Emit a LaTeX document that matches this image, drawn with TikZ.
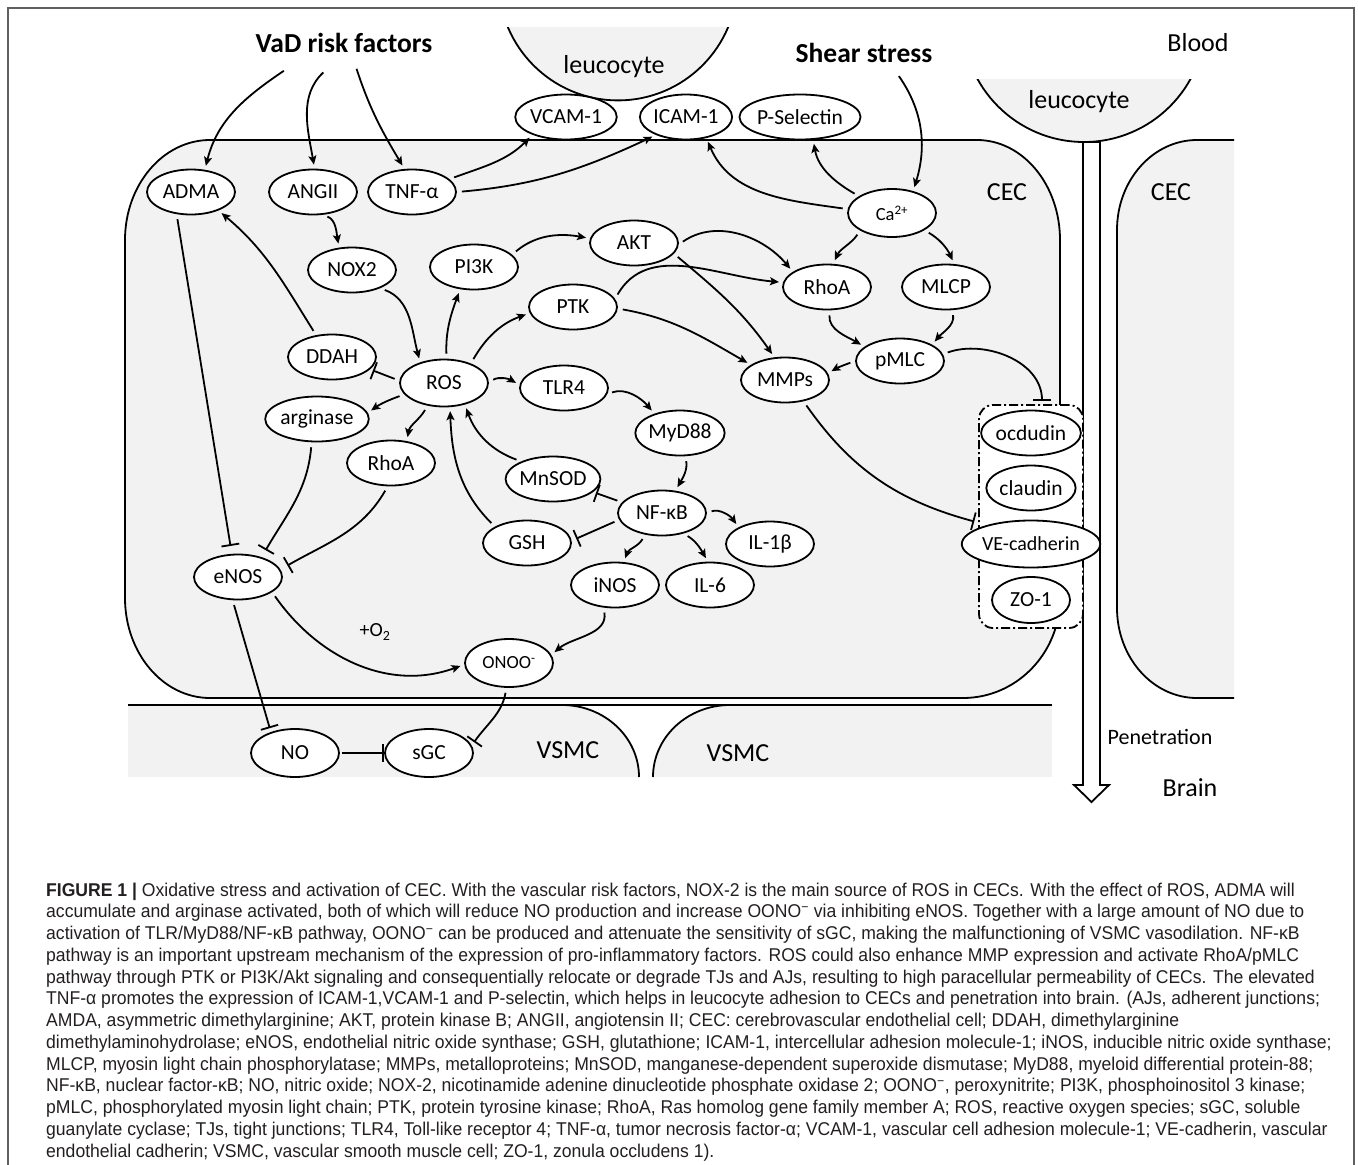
\documentclass[tikz,border=0pt]{standalone}
\usepackage{fontspec}
\setmainfont{Carlito}
\newfontfamily\capfont[FakeStretch=0.95]{Liberation Sans}
\usetikzlibrary{shapes.geometric,arrows.meta}
\definecolor{cellgray}{HTML}{F2F2F2}
\definecolor{captxt}{HTML}{231F20}
\definecolor{framegray}{HTML}{606060}
\begin{document}
\begin{tikzpicture}[x=1pt,y=1pt,
  el/.style={ellipse, draw, line width=1.8pt, fill=white, minimum width=88pt, minimum height=45pt, inner sep=0pt, font=\fontsize{21.5}{24}\selectfont},
  ar/.style={-{Stealth[length=9pt,width=8pt,inset=2pt]}, line width=1.8pt, shorten >=4pt, shorten <=5pt},
  inh/.style={-{Bar[width=18pt]}, line width=1.8pt, shorten >=8pt, shorten <=5pt},
  lab/.style={font=\fontsize{26}{30}\selectfont, inner sep=0pt},
  boldlab/.style={font=\bfseries\fontsize{27.5}{32}\selectfont, inner sep=0pt},
  outl/.style={line width=1.8pt},
  capline/.style={anchor=base west, inner sep=0pt, font=\capfont\fontsize{18.5}{22}\selectfont, text=captxt},
]
\fill[white] (0,0) rectangle (1358,-1165);
\useasboundingbox (0,0) rectangle (1358,-1165);
% frame
\draw[framegray, line width=1.5pt] (8,-1175) -- (8,-8) -- (1354,-8) -- (1354,-1175);

% top leucocyte
\begin{scope}
\clip (400,-27) rectangle (800,-200);
\fill[cellgray] (618,19) circle[radius=119.4];
\draw[outl] (618,19) circle[radius=119.4];
\end{scope}
% right leucocyte
\begin{scope}
\clip (900,-79) rectangle (1300,-200);
\fill[cellgray] (1084,-20.5) circle[radius=121.5];
\draw[outl] (1084,-20.5) circle[radius=121.5];
\end{scope}

% main CEC
\filldraw[fill=cellgray, outl] (210,-140) -- (977,-140)
  arc[start angle=90,end angle=0,x radius=83,y radius=100] -- (1060,-598)
  arc[start angle=0,end angle=-90,x radius=97,y radius=100] -- (210,-698)
  arc[start angle=270,end angle=180,x radius=85,y radius=100] -- (125,-240)
  arc[start angle=180,end angle=90,x radius=85,y radius=100] -- cycle;
% right CEC
\fill[cellgray] (1234,-140) -- (1197,-140)
  arc[start angle=90,end angle=180,x radius=80,y radius=90] -- (1117,-608)
  arc[start angle=180,end angle=270,x radius=80,y radius=90] -- (1234,-698) -- cycle;
\draw[outl] (1234,-140) -- (1197,-140)
  arc[start angle=90,end angle=180,x radius=80,y radius=90] -- (1117,-608)
  arc[start angle=180,end angle=270,x radius=80,y radius=90] -- (1234,-698);

% VSMC band
\fill[cellgray] (128,-705) rectangle (1052,-777);
\fill[white] (562,-705) arc[start angle=90,end angle=0,x radius=77,y radius=72]
  -- (653,-777) arc[start angle=180,end angle=90,x radius=77,y radius=72] -- cycle;
\draw[outl] (562,-705) arc[start angle=90,end angle=0,x radius=77,y radius=72];
\draw[outl] (653,-777) arc[start angle=180,end angle=90,x radius=77,y radius=72];
\draw[line width=2.4pt] (128,-705) -- (1052,-705);

% channel arrow
\draw[outl, fill=white] (1083,-142) -- (1083,-785) -- (1074,-785) -- (1091.5,-802)
  -- (1109,-785) -- (1100,-785) -- (1100,-142) -- cycle;

% TJ box
\node[draw, fill=white, line width=1.8pt, rounded corners=14pt,
  dash pattern=on 9pt off 3pt on 2pt off 3pt, minimum width=104pt,
  minimum height=223pt, inner sep=0pt] (tjbox) at (1031,-516.5) {};

% labels
\node[boldlab] (vad) at (344,-43) {VaD risk factors};
\node[boldlab] (shear) at (864,-53) {Shear stress};
\node[lab] (blood) at (1198,-43) {Blood};
\node[lab] (leu1) at (614,-67) {leucocyte};
\node[lab] (leu2) at (1079,-102) {leucocyte};
\node[lab] (cec1) at (1007,-192) {CEC};
\node[lab] (cec2) at (1171,-192) {CEC};
\node[lab] (vsmc1) at (568,-750) {VSMC};
\node[lab] (vsmc2) at (738,-753) {VSMC};
\node[font=\fontsize{22}{26}\selectfont, inner sep=0pt] (pen) at (1160,-737) {Penetration};
\node[lab] (brain) at (1190,-788) {Brain};
\node[font=\fontsize{20}{24}\selectfont, inner sep=0pt] (o2) at (375,-632) {+O\textsubscript{2}};

% nodes
\node[el, minimum width=90pt] (vcam) at (566,-117) {VCAM-1};
\node[el] (icam) at (686,-117) {ICAM-1};
\node[el, minimum width=106pt] (psel) at (800,-117) {P-Selectin};
\node[el] (adma) at (191,-192) {ADMA};
\node[el] (angii) at (313,-192) {ANGII};
\node[el] (tnf) at (412,-192) {TNF-α};
\node[el, minimum height=48pt, font=\fontsize{18.5}{22}\selectfont] (ca) at (892,-213) {Ca\textsuperscript{2+}};
\node[el] (nox2) at (352,-270) {NOX2};
\node[el] (pi3k) at (474,-267) {PI3K};
\node[el] (akt) at (634,-243) {AKT};
\node[el] (rhoa1) at (827,-287) {RhoA};
\node[el] (mlcp) at (946,-287) {MLCP};
\node[el] (ptk) at (573,-307) {PTK};
\node[el] (ddah) at (332,-357) {DDAH};
\node[el, minimum height=47pt] (ros) at (444,-383) {ROS};
\node[el] (tlr4) at (564,-388) {TLR4};
\node[el] (mmps) at (785,-380) {MMPs};
\node[el] (pmlc) at (900,-361) {pMLC};
\node[el] (arginase) at (317,-419) {arginase};
\node[el] (myd88) at (680,-433) {MyD88};
\node[el] (rhoa2) at (391,-463) {RhoA};
\node[el] (mnsod) at (553,-479) {MnSOD};
\node[el] (nfkb) at (662,-513) {NF-κB};
\node[el] (gsh) at (527,-543) {GSH};
\node[el] (il1b) at (770,-544) {IL-1β};
\node[el] (inos) at (615,-585) {iNOS};
\node[el] (il6) at (710,-585) {IL-6};
\node[el] (enos) at (238,-577) {eNOS};
\node[el, minimum height=48pt, font=\fontsize{18.5}{22}\selectfont] (onoo) at (509,-663) {ONOO\textsuperscript{-}};
\node[el, minimum height=48pt] (no) at (295,-753) {NO};
\node[el, minimum height=48pt] (sgc) at (429,-753) {sGC};
\node[el] (ocd) at (1031,-433) {ocdudin};
\node[el] (cld) at (1031,-488) {claudin};
\node[el, minimum width=103pt, minimum height=47pt, font=\fontsize{20}{24}\selectfont] (vec) at (1031,-544) {VE-cadherin};
\node[el, minimum width=78pt, minimum height=46pt] (zo1) at (1031,-600) {ZO-1};

% connectors
\draw[ar] ([shift={(-56,-25)}]vad.center) to[out=214,in=76] (adma.58);
\draw[ar] ([shift={(-17,-26)}]vad.center) to[out=223,in=100] (angii.86);
\draw[ar] ([shift={(11,-21)}]vad.center) to[out=-72,in=121] (tnf.108);
\draw[ar] (tnf.19) to[out=20,in=225] (vcam.208);
\draw[ar] (tnf.0) to[out=5,in=205] (icam.211);
\draw[ar] (ca.175) to[out=172,in=-67] (icam.-46);
\draw[ar] (ca.153) to[out=150,in=-80] (psel.-60);
\draw[ar] ([shift={(32,-19)}]shear.center) to[out=-55,in=73] (ca.46);
\draw[ar] (ca.209) to[out=235,in=65] (rhoa1.75);
\draw[ar] (ca.-28) to[out=-30,in=115] (mlcp.70);
\draw[ar] (pi3k.18) to[out=40,in=170] (akt.174);
\draw[ar] (akt.-2) to[out=35,in=130] (rhoa1.156);
\draw[ar] (ptk.11) to[out=60,in=175] (rhoa1.174);
\draw[ar] (akt.-15) to[out=-40,in=125] (mmps.115);
\draw[ar] (ptk.-2) to[out=-10,in=150] (mmps.156);
\draw[ar] (rhoa1.-83) to[out=-95,in=150] (pmlc.158);
\draw[ar] (mlcp.-75) to[out=-80,in=50] (pmlc.27);
\draw[ar] (pmlc.180) to[out=200,in=30] (mmps.9);
\draw[inh, shorten >=3pt] (pmlc.9) to[out=20,in=90] ([xshift=11pt]tjbox.north);
\draw[inh, shorten >=4pt] (mmps.-49) to[out=-55,in=165] ([yshift=-6pt]tjbox.west);
\draw[ar] (angii.-67) to[out=-20,in=100] (nox2.120);
\draw[ar] (nox2.-33) to[out=-20,in=105] (ros.139);
\draw[inh] (adma.-123) -- (enos.105);
\draw[ar] (ddah.126) to[out=122,in=-40] (adma.-34);
\draw[inh, shorten >=3pt] (ros.177) -- (ddah.-18);
\draw[ar] (ros.196) to[out=200,in=35] (arginase.7);
\draw[ar] (ros.234) to[out=240,in=80] (rhoa2.54);
\draw[ar] (ros.84) to[out=92,in=-110] (pi3k.238);
\draw[ar] (ros.36) to[out=60,in=200] (ptk.188);
\draw[ar] (ros.1) to[out=30,in=150] (tlr4.176);
\draw[ar] (mnsod.151) to[out=160,in=-70] (ros.-46);
\draw[ar] (gsh.153) to[out=135,in=-88] (ros.-76);
\draw[inh] (arginase.-103) to[out=-95,in=60] (enos.40);
\draw[inh] (rhoa2.-98) to[out=-120,in=30] (enos.10);
\draw[ar] (tlr4.-8) to[out=20,in=130] (myd88.143);
\draw[ar] (myd88.-77) to[out=-80,in=60] (nfkb.59);
\draw[inh, shorten >=3pt] (nfkb.165) -- (mnsod.-18);
\draw[inh, shorten >=5pt] (nfkb.189) -- (gsh.3);
\draw[ar] (nfkb.232) to[out=240,in=70] (inos.69);
\draw[ar] (nfkb.-44) to[out=-30,in=120] (il6.95);
\draw[ar] (nfkb.0) to[out=20,in=125] (il1b.152);
\draw[ar] (inos.243) to[out=-80,in=40] (onoo.11);
\draw[ar] (enos.-24) to[out=-55,in=200] (onoo.182);
\draw[inh, shorten >=4pt] (enos.-103) -- (no.139);
\draw[inh, shorten >=0pt, shorten <=2pt] (no.east) -- (sgc.west);
\draw[inh, shorten >=4pt] (onoo.-96) to[out=-100,in=55] (sgc.10);

% caption
\node[capline] (c1) at (46,-896.0) {{\bfseries FIGURE 1 |} Oxidative stress and activation of CEC. With the vascular risk factors, NOX-2 is the main source of ROS in CECs. With the effect of ROS, ADMA will};
\node[capline] (c2) at (46,-917.75) {accumulate and arginase activated, both of which will reduce NO production and increase OONO\textsuperscript{\char"2212} via inhibiting eNOS. Together with a large amount of NO due to};
\node[capline] (c3) at (46,-939.5) {activation of TLR/MyD88/NF-κB pathway, OONO\textsuperscript{\char"2212} can be produced and attenuate the sensitivity of sGC, making the malfunctioning of VSMC vasodilation. NF-κB};
\node[capline] (c4) at (46,-961.25) {pathway is an important upstream mechanism of the expression of pro-inflammatory factors. ROS could also enhance MMP expression and activate RhoA/pMLC};
\node[capline] (c5) at (46,-983.0) {pathway through PTK or PI3K/Akt signaling and consequentially relocate or degrade TJs and AJs, resulting to high paracellular permeability of CECs. The elevated};
\node[capline] (c6) at (46,-1004.75) {TNF-α promotes the expression of ICAM-1,VCAM-1 and P-selectin, which helps in leucocyte adhesion to CECs and penetration into brain. (AJs, adherent junctions;};
\node[capline] (c7) at (46,-1026.5) {AMDA, asymmetric dimethylarginine; AKT, protein kinase B; ANGII, angiotensin II; CEC: cerebrovascular endothelial cell; DDAH, dimethylarginine};
\node[capline] (c8) at (46,-1048.25) {dimethylaminohydrolase; eNOS, endothelial nitric oxide synthase; GSH, glutathione; ICAM-1, intercellular adhesion molecule-1; iNOS, inducible nitric oxide synthase;};
\node[capline] (c9) at (46,-1070.0) {MLCP, myosin light chain phosphorylatase; MMPs, metalloproteins; MnSOD, manganese-dependent superoxide dismutase; MyD88, myeloid differential protein-88;};
\node[capline] (c10) at (46,-1091.75) {NF-κB, nuclear factor-κB; NO, nitric oxide; NOX-2, nicotinamide adenine dinucleotide phosphate oxidase 2; OONO\textsuperscript{\char"2212}, peroxynitrite; PI3K, phosphoinositol 3 kinase;};
\node[capline] (c11) at (46,-1113.5) {pMLC, phosphorylated myosin light chain; PTK, protein tyrosine kinase; RhoA, Ras homolog gene family member A; ROS, reactive oxygen species; sGC, soluble};
\node[capline] (c12) at (46,-1135.25) {guanylate cyclase; TJs, tight junctions; TLR4, Toll-like receptor 4; TNF-α, tumor necrosis factor-α; VCAM-1, vascular cell adhesion molecule-1; VE-cadherin, vascular};
\node[capline] (c13) at (46,-1157.0) {endothelial cadherin; VSMC, vascular smooth muscle cell; ZO-1, zonula occludens 1).};
\end{tikzpicture}
\end{document}
